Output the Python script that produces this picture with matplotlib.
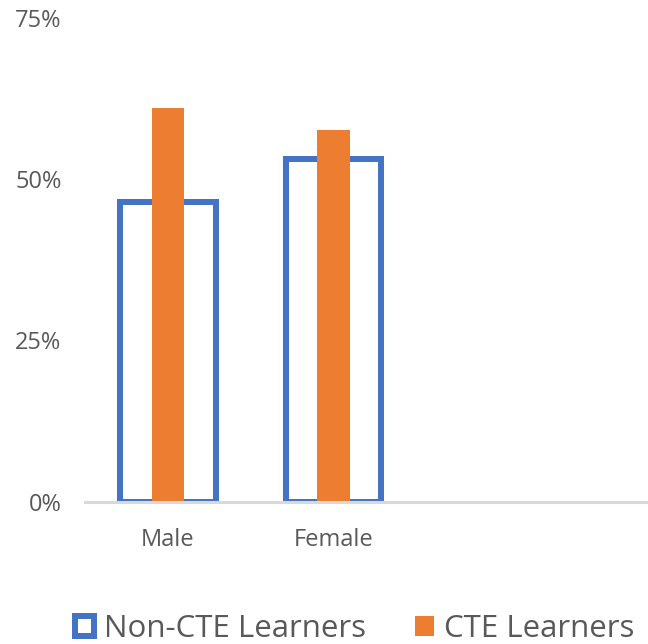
import numpy as np
import matplotlib.pyplot as plt
from matplotlib.patches import Patch

# Дані діаграми
categories = ['Male', 'Female']
non_cte = [46.5, 53.1]   # Non-CTE Learners, %
cte = [61.1, 57.7]       # CTE Learners, %
y_ticks = [0, 25, 50, 75]
series_labels = ['Non-CTE Learners', 'CTE Learners']

BLUE = '#4472C4'
ORANGE = '#ED7D31'
GREY_TEXT = '#595959'

plt.rcParams['font.family'] = ['Open Sans', 'DejaVu Sans']

fig = plt.figure(figsize=(6.48, 6.44), dpi=100)
ax = fig.add_axes([85 / 648, 0.221, 1 - 85 / 648, 0.7509])

x = np.arange(len(categories))
# Контурні стовпці (Non-CTE) та заповнені стовпці (CTE) в одній позиції
ax.bar(x, non_cte, width=0.577, facecolor='white', edgecolor=BLUE,
       linewidth=4.3, zorder=1)
ax.bar(x, cte, width=0.196, color=ORANGE, zorder=2)

ax.set_xlim(-0.5, 2.9)
ax.set_ylim(0, 75)
ax.set_yticks(y_ticks)
ax.set_yticklabels([f'{v}%' for v in y_ticks])
ax.set_xticks(x)
ax.set_xticklabels(categories)
ax.tick_params(axis='y', length=0, pad=17, labelsize=17, labelcolor=GREY_TEXT)
ax.tick_params(axis='x', length=0, pad=19, labelsize=17, labelcolor=GREY_TEXT)

for side in ['left', 'right', 'top']:
    ax.spines[side].set_visible(False)
ax.spines['bottom'].set_color('#D9D9D9')
ax.spines['bottom'].set_linewidth(2.2)
ax.spines['bottom'].set_zorder(3)

handles = [Patch(facecolor='white', edgecolor=BLUE, linewidth=4.3),
           Patch(facecolor=ORANGE, edgecolor='none')]
fig.legend(handles, series_labels, loc='lower left', bbox_to_anchor=(74.7 / 648, 0.0),
           ncol=2, frameon=False, fontsize=22.5, labelcolor=GREY_TEXT,
           handlelength=0.61, handleheight=0.61, handletextpad=0.33,
           columnspacing=1.55, borderpad=0, borderaxespad=0)

fig.savefig('out.png', dpi=100)
